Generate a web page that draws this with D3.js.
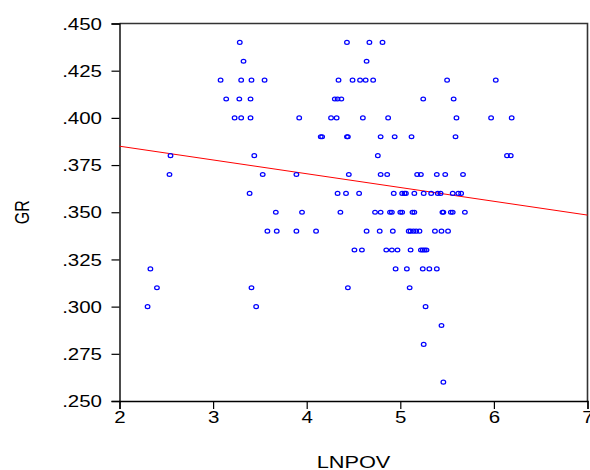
<!DOCTYPE html>
<html>
<head>
<meta charset="utf-8">
<script src="https://cdn.jsdelivr.net/npm/d3@7"></script>
<style>
  html, body { margin: 0; padding: 0; background: #ffffff; }
  svg { display: block; }
</style>
</head>
<body>
<script>
// ---- Data ----
const lnpov = [
  3.285, 4.43, 4.67, 4.81,
  3.325, 4.64,
  3.08, 3.30, 3.41, 3.55, 4.34, 4.49, 4.57, 4.63, 4.71, 5.50, 6.02,
  3.14, 3.28, 3.40, 4.30, 4.33, 4.37, 5.245, 5.57,
  3.23, 3.30, 3.40, 3.92, 4.26, 4.32, 4.60, 4.87, 5.60, 5.97, 6.19,
  4.15, 4.165, 4.43, 4.44, 4.79, 4.94, 5.12, 5.59,
  2.545, 3.44, 4.76, 6.14, 6.18,
  2.534, 3.53, 3.89, 4.45, 4.79, 4.86, 5.18, 5.22, 5.39, 5.48, 5.67,
  3.39, 4.33, 4.42, 4.56, 4.93, 5.02, 5.045, 5.06, 5.15, 5.25, 5.33, 5.40, 5.43, 5.56, 5.62, 5.65,
  3.67, 3.95, 4.36, 4.73, 4.79, 4.89, 4.91, 5.00, 5.02, 5.13, 5.15, 5.45, 5.46, 5.54, 5.56, 5.69,
  3.58, 3.68, 3.89, 4.10, 4.64, 4.78, 4.92, 5.09, 5.11, 5.14, 5.17, 5.205, 5.37, 5.44, 5.51,
  4.51, 4.59, 4.85, 4.91, 4.97, 5.11, 5.22, 5.24, 5.26, 5.28,
  2.33, 4.95, 5.07, 5.24, 5.31, 5.39,
  2.40, 3.41, 4.44, 5.10,
  2.30, 3.46, 5.27,
  5.44,
  5.25,
  5.46
];
const gr = [
  .44, .44, .44, .44,
  .43, .43,
  .42, .42, .42, .42, .42, .42, .42, .42, .42, .42, .42,
  .41, .41, .41, .41, .41, .41, .41, .41,
  .40, .40, .40, .40, .40, .40, .40, .40, .40, .40, .40,
  .39, .39, .39, .39, .39, .39, .39, .39,
  .38, .38, .38, .38, .38,
  .37, .37, .37, .37, .37, .37, .37, .37, .37, .37, .37,
  .36, .36, .36, .36, .36, .36, .36, .36, .36, .36, .36, .36, .36, .36, .36, .36,
  .35, .35, .35, .35, .35, .35, .35, .35, .35, .35, .35, .35, .35, .35, .35, .35,
  .34, .34, .34, .34, .34, .34, .34, .34, .34, .34, .34, .34, .34, .34, .34,
  .33, .33, .33, .33, .33, .33, .33, .33, .33, .33,
  .32, .32, .32, .32, .32, .32,
  .31, .31, .31, .31,
  .30, .30, .30,
  .29,
  .28,
  .26
];
const fitX = [2, 7];
const fitY = [0.385, 0.3485];
const xTicks = [2, 3, 4, 5, 6, 7];
const yTicks = [0.250, 0.275, 0.300, 0.325, 0.350, 0.375, 0.400, 0.425, 0.450];
const yTickLabels = [".250", ".275", ".300", ".325", ".350", ".375", ".400", ".425", ".450"];
const xTitle = "LNPOV";
const yTitle = "GR";

// ---- Layout ----
const W = 590, H = 470;
const L = 119.5, R = 587.5, T = 23.5, B = 401;
const SX = 1.28; // horizontal text stretch seen in the reference
const FONT = "Arial, 'Liberation Sans', Helvetica, sans-serif";

const svg = d3.select("body").append("svg")
  .attr("width", W).attr("height", H)
  .style("background", "#fff");

const x = d3.scaleLinear().domain([2, 7]).range([L, R]);
const y = d3.scaleLinear().domain([0.25, 0.45]).range([B, T]);

// frame (top/right)
svg.append("path")
  .attr("d", `M${L},${T}H${R}V${B}`)
  .attr("fill", "none").attr("stroke", "#333").attr("stroke-width", 1.6);

// Y axis
const yAxis = svg.append("g")
  .attr("transform", `translate(${L},0)`)
  .call(d3.axisLeft(y).tickValues(yTicks).tickSize(8)
    .tickFormat((d, i) => yTickLabels[i]));
yAxis.select(".domain").attr("stroke", "#000").attr("stroke-width", 1.4);
yAxis.selectAll(".tick line").attr("stroke", "#000").attr("stroke-width", 1.2);
yAxis.selectAll(".tick text")
  .attr("x", null).attr("dy", null)
  .attr("transform", "translate(-17.5,5.7) scale(" + SX + ",1)")
  .attr("text-anchor", "end")
  .attr("fill", "#000")
  .style("font-family", FONT).style("font-size", "16px");

// X axis
const xAxis = svg.append("g")
  .attr("transform", `translate(0,${B})`)
  .call(d3.axisBottom(x).tickValues(xTicks).tickSize(8).tickFormat(d3.format("d")));
xAxis.select(".domain").attr("stroke", "#000").attr("stroke-width", 1.4);
xAxis.selectAll(".tick line").attr("stroke", "#000").attr("stroke-width", 1.2);
xAxis.selectAll(".tick text")
  .attr("y", null).attr("dy", null)
  .attr("transform", "translate(0,21.5) scale(" + SX + ",1)")
  .attr("text-anchor", "middle")
  .attr("fill", "#000")
  .style("font-family", FONT).style("font-size", "16px");

// fit line
svg.append("line")
  .attr("x1", x(fitX[0])).attr("y1", y(fitY[0]))
  .attr("x2", x(fitX[1])).attr("y2", y(fitY[1]))
  .attr("stroke", "#ff0000").attr("stroke-width", 1);

// points
svg.append("g").selectAll("ellipse")
  .data(lnpov.map((v, i) => [v, gr[i]]))
  .join("ellipse")
  .attr("cx", d => x(d[0]))
  .attr("cy", d => y(d[1]))
  .attr("rx", 2.3).attr("ry", 1.9)
  .attr("fill", "none")
  .attr("stroke", "#0000ff")
  .attr("stroke-width", 1.25);

// axis titles
svg.append("text")
  .attr("transform", `translate(${(L + R) / 2},468) scale(${SX},1)`)
  .attr("text-anchor", "middle")
  .style("font-family", FONT).style("font-size", "17px")
  .attr("fill", "#000")
  .text(xTitle);

svg.append("text")
  .attr("transform", `translate(28.5,${(T + B) / 2}) scale(${SX},1) rotate(-90)`)
  .attr("text-anchor", "middle")
  .style("font-family", FONT).style("font-size", "16px")
  .attr("fill", "#000")
  .text(yTitle);
</script>
</body>
</html>
